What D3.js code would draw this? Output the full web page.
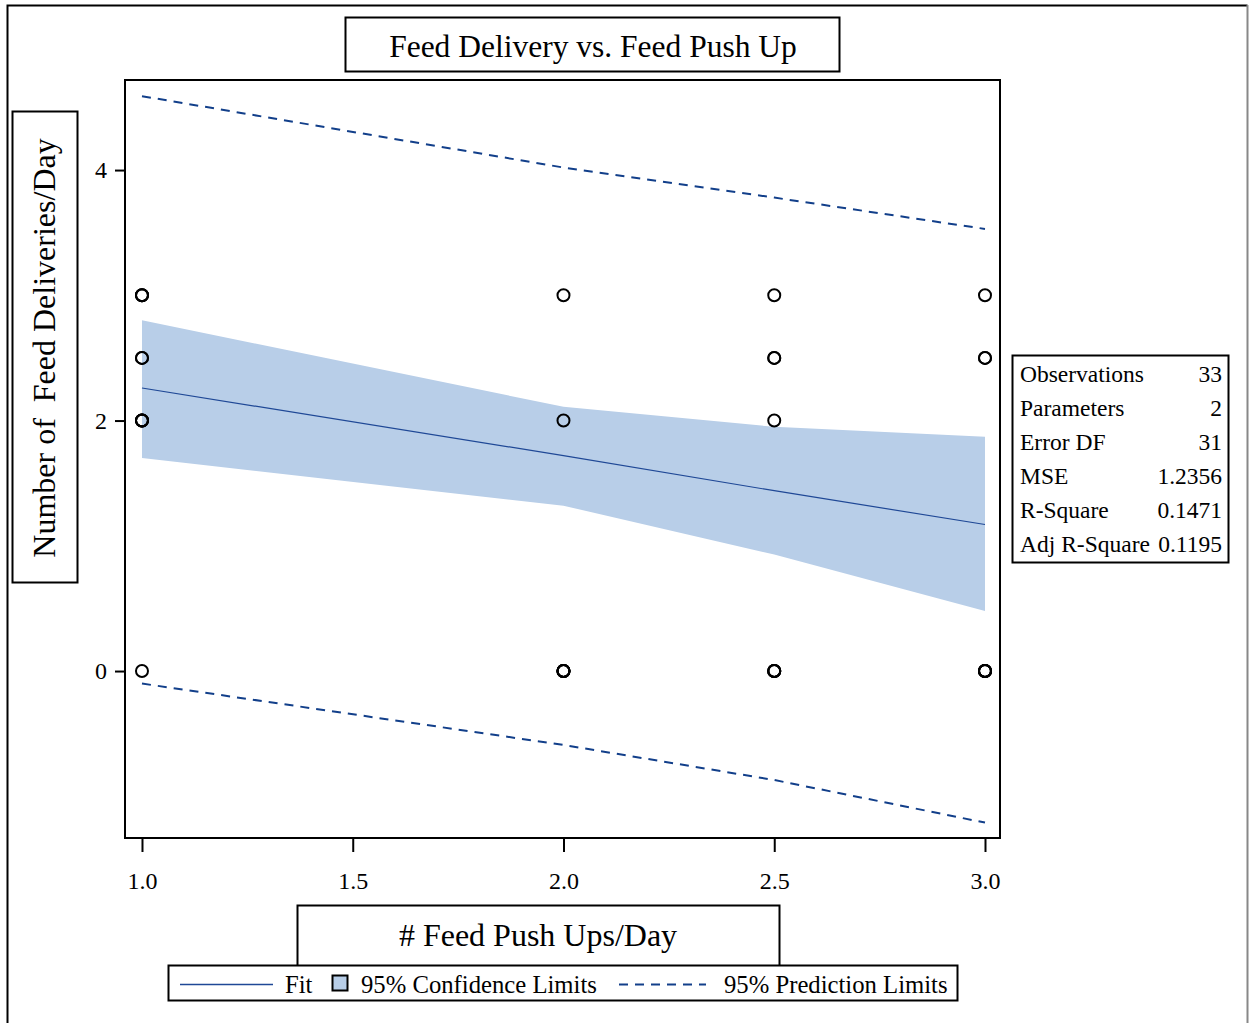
<!DOCTYPE html>
<html>
<head>
<meta charset="utf-8">
<script src="https://cdn.jsdelivr.net/npm/d3@7"></script>
<style>
  body { margin: 0; background: #fff; }
  svg text { font-family: "Liberation Serif", "Times New Roman", serif; fill: #000; }
</style>
</head>
<body>
<div id="canvas"></div>
<script>
// observed data (overlapping points repeat)
let obsX = [1, 1, 1, 1, 1, 1, 1, 1, 1, 1, 2, 2, 2, 2, 2, 2, 2, 2.5, 2.5, 2.5, 2.5, 2.5, 2.5, 2.5, 2.5, 3, 3, 3, 3, 3, 3, 3, 3];
let obsY = [3, 3, 3, 2.5, 2.5, 2, 2, 2, 2, 0, 3, 2, 0, 0, 0, 0, 0, 3, 2.5, 2.5, 2, 0, 0, 0, 0, 3, 2.5, 2.5, 0, 0, 0, 0, 0];

// fit and limits at each distinct x
let levels = [1, 2, 2.5, 3];
let fit = [2.26, 1.72, 1.44, 1.17];
let clUpper = [2.80, 2.11, 1.95, 1.87];
let clLower = [1.70, 1.32, 0.93, 0.48];
let plUpper = [4.59, 4.02, 3.78, 3.53];
let plLower = [-0.10, -0.59, -0.87, -1.21];

let xTicks = [1.0, 1.5, 2.0, 2.5, 3.0];
let yTicks = [0, 2, 4];

let statLabels = ["Observations", "Parameters", "Error DF", "MSE", "R-Square", "Adj R-Square"];
let statValues = ["33", "2", "31", "1.2356", "0.1471", "0.1195"];

let drawing = d3.select("#canvas")
    .append("svg")
    .attr("width", 1250)
    .attr("height", 1023);

let bandColor = "#b8cee8";
let lineColor = "#1f4896";
let dashColor = "#123f8a";

// outer frame
drawing.append("path")
    .attr("d", "M7.5,1023 L7.5,5.5 L1247.5,5.5")
    .attr("fill", "none").attr("stroke", "#000").attr("stroke-width", 2);
drawing.append("line")
    .attr("x1", 1247.5).attr("y1", 5).attr("x2", 1247.5).attr("y2", 1023)
    .attr("stroke", "#888").attr("stroke-width", 2);

let plotL = 125, plotR = 1000, plotT = 80, plotB = 838;

let x = d3.scaleLinear().domain([0.9597, 3.0356]).range([plotL, plotR]);
let y = d3.scaleLinear().domain([-1.333, 4.719]).range([plotB, plotT]);

let plot = drawing.append("g");

// confidence band
let area = d3.area()
    .x((d, i) => x(levels[i]))
    .y0((d, i) => y(clLower[i]))
    .y1((d, i) => y(clUpper[i]));
plot.append("path")
    .datum(levels)
    .attr("d", area)
    .attr("fill", bandColor);

let line = d3.line()
    .x(d => x(d[0]))
    .y(d => y(d[1]));

// fit
plot.append("path")
    .datum(d3.zip(levels, fit))
    .attr("d", line)
    .attr("fill", "none").attr("stroke", lineColor).attr("stroke-width", 1.2);

// prediction limits
[plUpper, plLower].forEach(arr => {
    plot.append("path")
        .datum(d3.zip(levels, arr))
        .attr("d", line)
        .attr("fill", "none").attr("stroke", dashColor)
        .attr("stroke-width", 2).attr("stroke-dasharray", "9,7");
});

// observations
plot.selectAll("circle.obs")
    .data(d3.zip(obsX, obsY))
    .enter().append("circle")
    .attr("class", "obs")
    .attr("cx", d => x(d[0]))
    .attr("cy", d => y(d[1]))
    .attr("r", 6)
    .attr("fill", "none")
    .attr("stroke", "#000")
    .attr("stroke-width", 2);

// plot frame
drawing.append("rect")
    .attr("x", plotL).attr("y", plotT)
    .attr("width", plotR - plotL).attr("height", plotB - plotT)
    .attr("fill", "none").attr("stroke", "#000").attr("stroke-width", 2);

// axes
let yAxis = d3.axisLeft(y).tickValues(yTicks).tickFormat(d3.format("d")).tickSize(9).tickPadding(8);
let gy = drawing.append("g").attr("transform", "translate(" + (plotL - 1) + ",0)").call(yAxis);
gy.select(".domain").remove();
gy.selectAll("line").attr("stroke", "#000").attr("stroke-width", 2);
gy.selectAll("text").style("font-size", "24px").attr("font-family", null);

let xAxis = d3.axisBottom(x).tickValues(xTicks).tickFormat(d3.format(".1f")).tickSize(13).tickPadding(20);
let gx = drawing.append("g").attr("transform", "translate(0," + (plotB + 1) + ")").call(xAxis);
gx.select(".domain").remove();
gx.selectAll("line").attr("stroke", "#000").attr("stroke-width", 2);
gx.selectAll("text").style("font-size", "24px").attr("font-family", null);

// title
drawing.append("rect")
    .attr("x", 345.5).attr("y", 17.5).attr("width", 494).attr("height", 54)
    .attr("fill", "#fff").attr("stroke", "#000").attr("stroke-width", 2);
drawing.append("text")
    .attr("x", 593).attr("y", 57).attr("text-anchor", "middle")
    .style("font-size", "31.5px")
    .text("Feed Delivery vs. Feed Push Up");

// y label
drawing.append("rect")
    .attr("x", 12.5).attr("y", 111.5).attr("width", 65).attr("height", 471)
    .attr("fill", "#fff").attr("stroke", "#000").attr("stroke-width", 2);
drawing.append("text")
    .attr("transform", "translate(55,348) rotate(-90)")
    .attr("text-anchor", "middle")
    .style("font-size", "32px")
    .style("white-space", "pre")
    .text("Number of  Feed Deliveries/Day");

// x label
drawing.append("rect")
    .attr("x", 297.5).attr("y", 905.5).attr("width", 482).attr("height", 64)
    .attr("fill", "#fff").attr("stroke", "#000").attr("stroke-width", 2);
drawing.append("text")
    .attr("x", 538).attr("y", 946).attr("text-anchor", "middle")
    .style("font-size", "32px")
    .text("# Feed Push Ups/Day");

// legend
drawing.append("rect")
    .attr("x", 168.5).attr("y", 965.5).attr("width", 789).attr("height", 35)
    .attr("fill", "#fff").attr("stroke", "#000").attr("stroke-width", 2);
drawing.append("line")
    .attr("x1", 180).attr("x2", 273).attr("y1", 984.5).attr("y2", 984.5)
    .attr("stroke", lineColor).attr("stroke-width", 1.5);
drawing.append("text").attr("x", 285).attr("y", 993).style("font-size", "24.7px").text("Fit");
drawing.append("rect")
    .attr("x", 332.5).attr("y", 975.5).attr("width", 15).attr("height", 15)
    .attr("fill", bandColor).attr("stroke", "#000").attr("stroke-width", 2);
drawing.append("text").attr("x", 361).attr("y", 993).style("font-size", "24.7px").text("95% Confidence Limits");
drawing.append("line")
    .attr("x1", 619).attr("x2", 706).attr("y1", 984.5).attr("y2", 984.5)
    .attr("stroke", dashColor).attr("stroke-width", 2).attr("stroke-dasharray", "9,7");
drawing.append("text").attr("x", 724).attr("y", 993).style("font-size", "24.7px").text("95% Prediction Limits");

// fit statistics
drawing.append("rect")
    .attr("x", 1012.5).attr("y", 355.5).attr("width", 216).attr("height", 207)
    .attr("fill", "#fff").attr("stroke", "#000").attr("stroke-width", 2);
let stats = drawing.append("g");
stats.selectAll("text.lab")
    .data(statLabels)
    .enter().append("text")
    .attr("class", "lab")
    .attr("x", 1020).attr("y", (d, i) => 382 + i * 34)
    .style("font-size", "23.5px")
    .text(d => d);
stats.selectAll("text.val")
    .data(statValues)
    .enter().append("text")
    .attr("class", "val")
    .attr("x", 1222).attr("y", (d, i) => 382 + i * 34)
    .attr("text-anchor", "end")
    .style("font-size", "23.5px")
    .text(d => d);
</script>
</body>
</html>
